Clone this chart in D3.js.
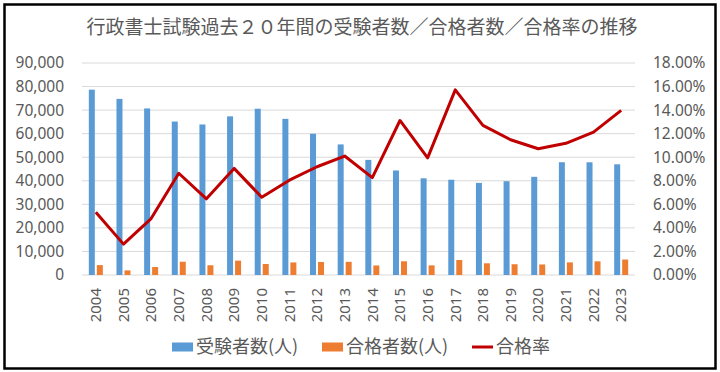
<!DOCTYPE html>
<html>
<head>
<meta charset="utf-8">
<script src="https://cdn.jsdelivr.net/npm/d3@7"></script>
<style>
  body { margin: 0; background: #fff; }
  text { font-family: "Noto Sans", "Noto Sans CJK JP", sans-serif; fill: #595959; }
</style>
</head>
<body>
<svg id="chart" width="720" height="372"></svg>
<script>
var years = ["2004","2005","2006","2007","2008","2009","2010","2011","2012","2013",
             "2014","2015","2016","2017","2018","2019","2020","2021","2022","2023"];
var applicants = [78683,74762,70713,65157,63907,67348,70586,66297,59948,55436,
                  48869,44366,41053,40449,39105,39821,41681,47870,47850,46991];
var passers = [4196,1961,3385,5631,4133,6095,4662,5337,5508,5597,
               4043,5820,4084,6360,4968,4571,4470,5353,5802,6571];
var passRate = [5.33,2.62,4.79,8.64,6.47,9.05,6.60,8.05,9.19,10.10,
                8.27,13.12,9.95,15.72,12.70,11.48,10.72,11.18,12.13,13.98];
var leftTicks = [0,10000,20000,30000,40000,50000,60000,70000,80000,90000];
var rightTicks = [0,2,4,6,8,10,12,14,16,18];
var legendNames = ["受験者数(人)", "合格者数(人)", "合格率"];

var blue = "#5B9BD5", orange = "#ED7D31", red = "#C00000";

var svg = d3.select("#chart");

// frame
svg.append("rect")
    .attr("x", 4.5).attr("y", 4.5)
    .attr("width", 711).attr("height", 364)
    .attr("fill", "#fff")
    .attr("stroke", "#000")
    .attr("stroke-width", 2.5);

var plotLeft = 82, plotRight = 635, plotTop = 63, plotBottom = 275;

var x = d3.scaleBand()
    .domain(years)
    .range([plotLeft, plotRight]);

var y = d3.scaleLinear()
    .domain([0, 90000])
    .range([plotBottom, plotTop]);

var y2 = d3.scaleLinear()
    .domain([0, 18])
    .range([plotBottom, plotTop]);

// title
svg.append("text")
    .attr("x", 362)
    .attr("y", 34)
    .attr("text-anchor", "middle")
    .style("font-family", "'Noto Sans CJK JP', sans-serif")
    .style("font-size", "19px")
    .text("行政書士試験過去２０年間の受験者数／合格者数／合格率の推移");

// gridlines
svg.append("g")
    .selectAll("line")
    .data(leftTicks)
    .enter().append("line")
    .attr("x1", plotLeft).attr("x2", plotRight)
    .attr("y1", function(d) { return y(d); })
    .attr("y2", function(d) { return y(d); })
    .attr("stroke", "#d9d9d9")
    .attr("stroke-width", 1);

// left axis
var leftAxis = svg.append("g")
    .attr("transform", "translate(" + plotLeft + ",0)")
    .call(d3.axisLeft(y).tickValues(leftTicks).tickFormat(d3.format(",")).tickSize(0).tickPadding(18));
leftAxis.select(".domain").remove();
leftAxis.selectAll("text").style("font-size", "15.5px").attr("fill", "#595959");

// right axis
var rightAxis = svg.append("g")
    .attr("transform", "translate(" + plotRight + ",0)")
    .call(d3.axisRight(y2).tickValues(rightTicks).tickFormat(function(d) { return d.toFixed(2) + "%"; }).tickSize(0).tickPadding(18));
rightAxis.select(".domain").remove();
rightAxis.selectAll("text").style("font-size", "15.5px").attr("fill", "#595959");

// x axis labels
var xAxis = svg.append("g")
    .attr("transform", "translate(0," + plotBottom + ")")
    .call(d3.axisBottom(x).tickSize(0).tickPadding(0));
xAxis.select(".domain").remove();
xAxis.selectAll("text")
    .style("font-size", "15px")
    .attr("fill", "#595959")
    .attr("text-anchor", "end")
    .attr("transform", "rotate(-90)")
    .attr("x", -13)
    .attr("y", 0)
    .attr("dy", "0.35em");

// bars
var bw = 6;
svg.append("g")
    .selectAll("rect")
    .data(applicants)
    .enter().append("rect")
    .attr("x", function(d, i) { return x(years[i]) + x.bandwidth() / 2 - 4 - bw / 2; })
    .attr("y", function(d) { return y(d); })
    .attr("width", bw)
    .attr("height", function(d) { return plotBottom - y(d); })
    .attr("fill", blue);

svg.append("g")
    .selectAll("rect")
    .data(passers)
    .enter().append("rect")
    .attr("x", function(d, i) { return x(years[i]) + x.bandwidth() / 2 + 4 - bw / 2; })
    .attr("y", function(d) { return y(d); })
    .attr("width", bw)
    .attr("height", function(d) { return plotBottom - y(d); })
    .attr("fill", orange);

// pass rate line
var line = d3.line()
    .x(function(d, i) { return x(years[i]) + x.bandwidth() / 2; })
    .y(function(d) { return y2(d); });

svg.append("path")
    .datum(passRate)
    .attr("d", line)
    .attr("fill", "none")
    .attr("stroke", red)
    .attr("stroke-width", 3)
    .attr("stroke-linejoin", "round");

// legend
var legend = svg.append("g").attr("transform", "translate(0,347)");
var legendX = [172, 322, 472];
var legendColors = [blue, orange, red];

legendNames.forEach(function(name, i) {
    if (i < 2) {
        legend.append("rect")
            .attr("x", legendX[i]).attr("y", -4.5)
            .attr("width", 21).attr("height", 9)
            .attr("fill", legendColors[i]);
    } else {
        legend.append("line")
            .attr("x1", legendX[i]).attr("x2", legendX[i] + 21)
            .attr("y1", 0).attr("y2", 0)
            .attr("stroke", legendColors[i])
            .attr("stroke-width", 3);
    }
    legend.append("text")
        .attr("x", legendX[i] + 24)
        .attr("y", 0)
        .attr("dy", "0.35em")
        .style("font-family", "'Noto Sans CJK JP', sans-serif")
        .style("font-size", "18px")
        .text(name);
});
</script>
</body>
</html>
